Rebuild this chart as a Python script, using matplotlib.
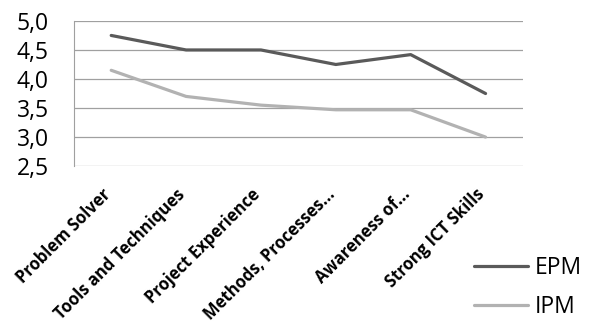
import numpy as np
import matplotlib.pyplot as plt

categories = ['Problem Solver', 'Tools and Techniques', 'Project Experience',
              'Methods, Processes...', 'Awareness of...', 'Strong ICT Skills']
epm = [4.75, 4.5, 4.5, 4.25, 4.42, 3.75]
ipm = [4.15, 3.7, 3.55, 3.47, 3.47, 3.0]
yticks = [2.5, 3.0, 3.5, 4.0, 4.5, 5.0]

plt.rcParams['font.family'] = ['Open Sans', 'DejaVu Sans']

fig = plt.figure(figsize=(5.95, 3.27), dpi=100)
ax = fig.add_axes([0.124, 0.492, 0.755, 0.444])

x = np.arange(len(categories))
ax.plot(x, epm, color='#5a5a5a', lw=2.3, label='EPM', solid_capstyle='round')
ax.plot(x, ipm, color='#b2b2b2', lw=2.3, label='IPM', solid_capstyle='round')

ax.set_xlim(-0.5, len(categories) - 0.5)
ax.set_ylim(2.5, 5.0)
ax.set_yticks(yticks)
ax.set_yticklabels([f'{v:.1f}'.replace('.', ',') for v in yticks], fontsize=16.5)
ax.set_xticks(x)
ax.set_xticklabels(categories, rotation=45, ha='right', va='baseline',
                   rotation_mode='anchor', fontsize=12, fontweight='bold')
ax.tick_params(axis='y', length=0, pad=18)
ax.tick_params(axis='x', length=0, pad=21)
ax.yaxis.grid(True, color='#a0a0a0', lw=0.9)
ax.set_axisbelow(True)
for s in ['top', 'right', 'bottom']:
    ax.spines[s].set_visible(False)
ax.spines['left'].set_color('#a0a0a0')

fig.legend(loc='upper left', bbox_to_anchor=(474 / 595, 1 - 256 / 327), frameon=False,
           fontsize=16.5, handlelength=2.35, handletextpad=0.3, labelspacing=0.67,
           borderpad=0, borderaxespad=0)

fig.savefig('out.png', dpi=100)
